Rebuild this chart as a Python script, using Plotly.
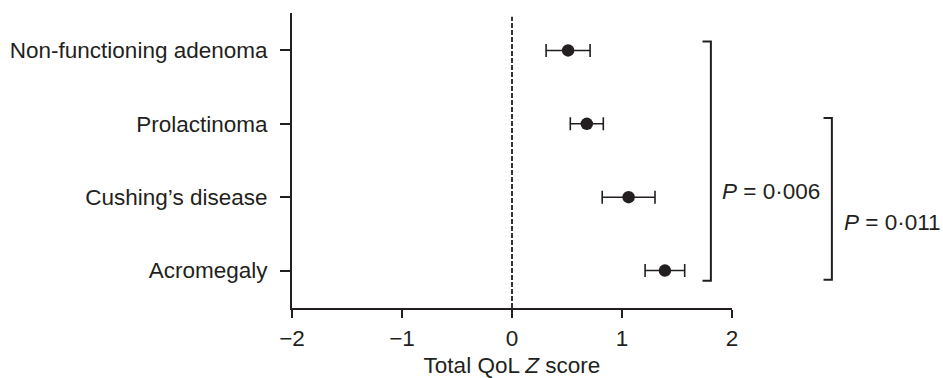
import plotly.graph_objects as go

# ---- data ----
groups = ["Non-functioning adenoma", "Prolactinoma", "Cushing’s disease", "Acromegaly"]
z_mean = [0.51, 0.68, 1.06, 1.39]
z_err = [0.20, 0.15, 0.24, 0.18]
x_tickvals = [-2, -1, 0, 1, 2]
x_ticktext = ["−2", "−1", "0", "1", "2"]
# comparisons: (first group, last group, P value)
comparisons = [
    ("Non-functioning adenoma", "Acromegaly", "0·006"),
    ("Prolactinoma", "Acromegaly", "0·011"),
]

# ---- style ----
INK = "#231f20"
FONT = "Liberation Sans, Arial, sans-serif"
FS = 22.5
bracket_x = [0.952, 1.227]        # paper x of bracket spine
bracket_arm = 0.019               # paper length of bracket arms
bracket_pad = [(-0.12, 0.14), (-0.08, 0.125)]
label_x = [0.973, 1.251]
label_y = [1.92, 2.35]

ypos = list(range(len(groups)))

fig = go.Figure()
fig.add_trace(go.Scatter(
    x=z_mean, y=ypos, mode="markers",
    marker=dict(size=12.5, color=INK, line=dict(width=0)),
    error_x=dict(type="data", array=z_err, visible=True, color=INK,
                 thickness=1.6, width=6.5),
    showlegend=False, hoverinfo="skip",
))

shapes = [dict(type="line", xref="x", yref="paper", x0=0, x1=0, y0=0, y1=0.987,
               line=dict(color=INK, width=1.8, dash="5px,2px"))]
annotations = []
for i, (g0, g1, p) in enumerate(comparisons):
    y0 = groups.index(g0) + bracket_pad[i][0]
    y1 = groups.index(g1) + bracket_pad[i][1]
    xs = bracket_x[i]
    xa = xs - bracket_arm
    shapes.append(dict(type="path", xref="paper", yref="y",
                       path=f"M {xa},{y0} L {xs},{y0} L {xs},{y1} L {xa},{y1}",
                       line=dict(color=INK, width=2)))
    annotations.append(dict(xref="paper", yref="y", x=label_x[i], y=label_y[i],
                            xanchor="left", yanchor="middle", showarrow=False,
                            text=f"<i>P</i> = {p}",
                            font=dict(family=FONT, size=FS, color=INK)))

fig.update_layout(
    width=943, height=378,
    margin=dict(l=292, r=211, t=13, b=70, autoexpand=False),
    paper_bgcolor="white", plot_bgcolor="white",
    font=dict(family=FONT, size=FS, color=INK),
    shapes=shapes, annotations=annotations,
    xaxis=dict(range=[-2, 2], tickvals=x_tickvals, ticktext=x_ticktext,
               showline=True, linecolor=INK, linewidth=2, automargin=False,
               ticks="outside", ticklen=8, tickwidth=2, tickcolor=INK,
               showgrid=False, zeroline=False, ticklabelstandoff=1,
               title=dict(text="Total QoL <i>Z</i> score", standoff=19,
                          font=dict(family=FONT, size=FS, color=INK)),
               tickfont=dict(family=FONT, size=FS, color=INK)),
    yaxis=dict(range=[3.51, -0.51], tickvals=ypos, ticktext=groups,
               showline=True, linecolor=INK, linewidth=2, automargin=False,
               ticks="outside", ticklen=10, tickwidth=2, tickcolor=INK,
               showgrid=False, zeroline=False, ticklabelstandoff=8,
               tickfont=dict(family=FONT, size=FS, color=INK)),
)

fig.write_html("out.html")
